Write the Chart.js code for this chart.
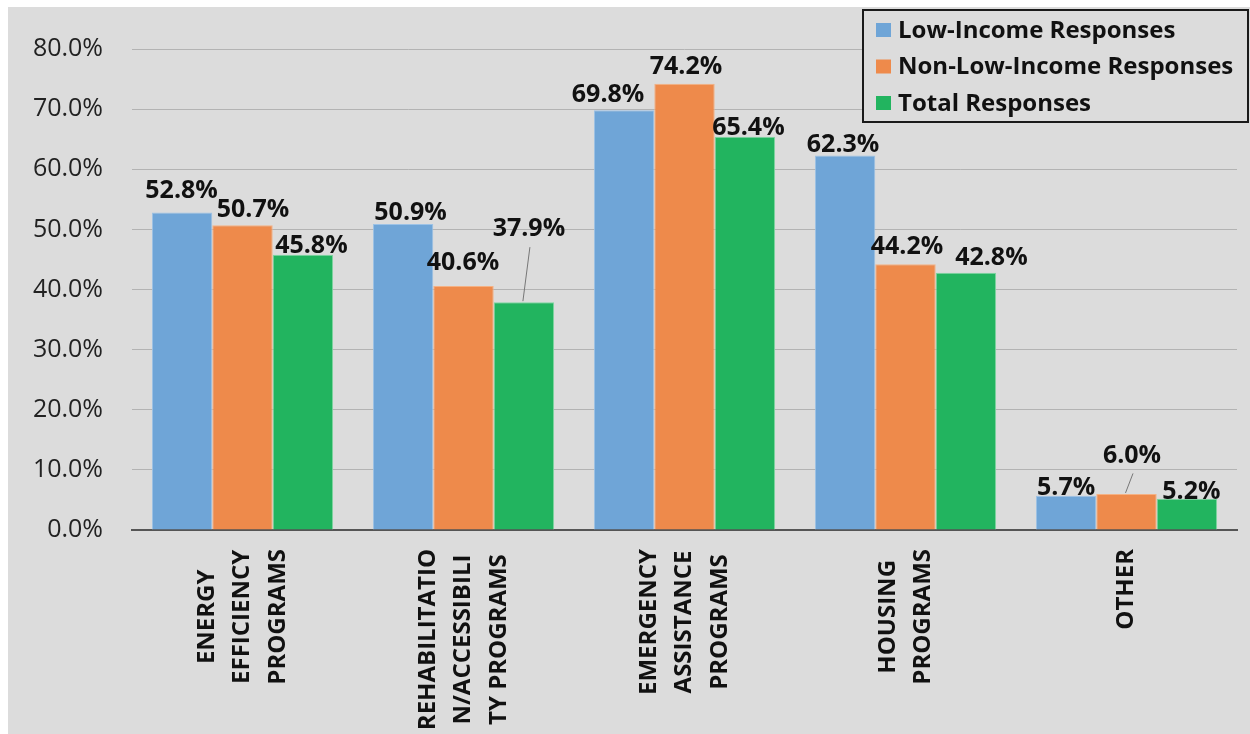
<!DOCTYPE html>
<html lang="en">
  <head>
    <meta charset="utf-8">
    <title>Program responses</title>
    <style>
      html, body { margin: 0; padding: 0; background: #fff; }
      #wrap { width: 1250px; height: 734px; }
    </style>
  </head>
  <body>
    <div id="wrap"><canvas id="bar-chart"></canvas></div>

    <script src="https://cdn.jsdelivr.net/npm/chart.js@4.4.1/dist/chart.umd.min.js"></script>
    <script>
    // categories (one array per label line)
    const categories = [
      ['ENERGY', 'EFFICIENCY', 'PROGRAMS'],
      ['REHABILITATIO', 'N/ACCESSIBILI', 'TY PROGRAMS'],
      ['EMERGENCY', 'ASSISTANCE', 'PROGRAMS'],
      ['HOUSING', 'PROGRAMS'],
      ['OTHER']
    ];
    const seriesNames = ['Low-Income Responses', 'Non-Low-Income Responses', 'Total Responses'];
    const lowIncome = [52.8, 50.9, 69.8, 62.3, 5.7];
    const nonLowIncome = [50.7, 40.6, 74.2, 44.2, 6.0];
    const total = [45.8, 37.9, 65.4, 42.8, 5.2];
    const yTicks = [0, 10, 20, 30, 40, 50, 60, 70, 80];

    // nudges for the value labels [dx, dy from bar top], like the hand-moved Excel labels
    const labelNudge = [
      [[-0.5, -23], [7.5, -12.5], [-16, -16], [-2, -12], [0, -9]],
      [[10.5, -16], [-0.5, -24.5], [1.5, -17.5], [1.5, -18.5], [5.5, -39.5]],
      [[8.5, -9.5], [5, -74], [3.5, -10], [25.5, -16], [4.5, -8]]
    ];

    const colors = ['#6fa5d7', '#ee8a4b', '#22b45f'];
    const edges = ['#9cc2e6', '#f5b183', '#7fd6a1'];
    const bg = '#dcdcdc';
    const FONT = '"Open Sans", "Noto Sans", sans-serif';

    const background = {
      id: 'background',
      beforeDraw(chart) {
        const ctx = chart.ctx;
        ctx.save();
        ctx.fillStyle = '#fff';
        ctx.fillRect(0, 0, chart.width, chart.height);
        ctx.fillStyle = bg;
        ctx.fillRect(8, 7, chart.width - 8, chart.height - 7);
        ctx.restore();
      }
    };

    const valueLabels = {
      id: 'valueLabels',
      afterDatasetsDraw(chart) {
        const ctx = chart.ctx;
        ctx.save();
        ctx.font = 'bold 25px ' + FONT;
        ctx.fillStyle = '#111';
        ctx.textAlign = 'center';
        ctx.textBaseline = 'middle';
        chart.data.datasets.forEach((ds, di) => {
          chart.getDatasetMeta(di).data.forEach((bar, i) => {
            const [dx, dy] = labelNudge[di][i];
            const lx = bar.x + dx, ly = bar.y + dy;
            ctx.fillText(ds.data[i].toFixed(1) + '%', lx, ly + 1);
            if (dy < -30) {
              ctx.strokeStyle = '#777';
              ctx.lineWidth = 1;
              ctx.beginPath();
              ctx.moveTo(lx + 1, ly + 19);
              ctx.lineTo(bar.x - 1, bar.y - 1);
              ctx.stroke();
            }
          });
        });
        ctx.restore();
      }
    };

    const categoryLabels = {
      id: 'categoryLabels',
      afterDraw(chart) {
        const ctx = chart.ctx;
        const xs = chart.scales.x;
        const top = 549, step = 35.5;
        ctx.save();
        ctx.font = 'bold 24px ' + FONT;
        ctx.fillStyle = '#111';
        ctx.textAlign = 'center';
        ctx.textBaseline = 'middle';
        chart.data.labels.forEach((lines, i) => {
          const cx = xs.getPixelForValue(i);
          const maxW = Math.max(...lines.map(l => ctx.measureText(l).width));
          const cy = top + maxW / 2;
          lines.forEach((line, j) => {
            const x = cx + (j - (lines.length - 1) / 2) * step;
            ctx.save();
            ctx.translate(x, cy);
            ctx.rotate(-Math.PI / 2);
            ctx.fillText(line, 0, 0);
            ctx.restore();
          });
        });
        ctx.restore();
      }
    };

    const boxLegend = {
      id: 'boxLegend',
      afterDraw(chart) {
        const ctx = chart.ctx;
        ctx.save();
        ctx.fillStyle = bg;
        ctx.fillRect(863, 10, 385, 112);
        ctx.strokeStyle = '#1a1a1a';
        ctx.lineWidth = 2;
        ctx.strokeRect(863, 10, 385, 112);
        ctx.font = 'bold 24px ' + FONT;
        ctx.textBaseline = 'middle';
        ctx.textAlign = 'left';
        chart.data.datasets.forEach((ds, i) => {
          const y = 30 + i * 36.5;
          ctx.fillStyle = ds.backgroundColor;
          ctx.fillRect(876, y - 7, 15, 14);
          ctx.fillStyle = '#111';
          ctx.fillText(ds.label, 898, y + 1);
        });
        ctx.restore();
      }
    };

    new Chart(document.getElementById('bar-chart'), {
      type: 'bar',
      data: {
        labels: categories,
        datasets: [lowIncome, nonLowIncome, total].map((d, i) => ({
          label: seriesNames[i],
          data: d,
          backgroundColor: colors[i],
          borderColor: edges[i],
          borderWidth: 1,
          categoryPercentage: 0.82,
          barPercentage: 1.0
        }))
      },
      options: {
        responsive: true,
        maintainAspectRatio: false,
        animation: false,
        devicePixelRatio: 1,
        layout: { padding: { top: 49, right: 13, left: 0, bottom: 0 } },
        plugins: { legend: { display: false }, tooltip: { enabled: false } },
        scales: {
          x: {
            grid: { display: false },
            border: { display: true, color: '#555', width: 2 },
            ticks: { display: false },
            afterFit(scale) { scale.height = 204; }
          },
          y: {
            min: 0,
            max: 80,
            afterBuildTicks(scale) { scale.ticks = yTicks.map(v => ({ value: v })); },
            grid: { color: '#b3b3b3', lineWidth: 1, drawTicks: false },
            border: { display: false },
            ticks: {
              padding: 29,
              color: '#222',
              font: { family: FONT, size: 25 },
              callback: v => v.toFixed(1) + '%'
            },
            afterFit(scale) { scale.width = 132; }
          }
        }
      },
      plugins: [background, valueLabels, categoryLabels, boxLegend]
    });
    </script>
  </body>
</html>
